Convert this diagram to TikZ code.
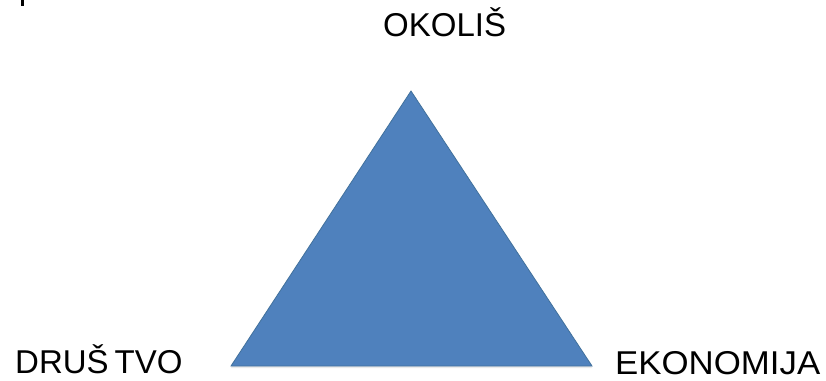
\documentclass[tikz,border=0pt]{standalone}
\usepackage{fontspec}
\setmainfont{Liberation Sans}
\definecolor{triblue}{HTML}{4F81BD}
\definecolor{triedge}{HTML}{41719C}
\begin{document}
\begin{tikzpicture}[x=1pt,y=1pt,
  lbl/.style={anchor=base west,inner sep=0pt,font=\fontsize{33}{37}\selectfont}]
\useasboundingbox (0,0) rectangle (826,380);
\fill[white] (0,0) rectangle (826,380);
\coordinate (bl) at (231,14);
\coordinate (br) at (592,14);
\coordinate (ap) at (411,289);
\fill[black!8] ([yshift=-2pt]bl) -- ([yshift=-2pt]br) -- ([yshift=-2pt]ap) -- cycle;
\filldraw[fill=triblue,draw=triedge,line width=0.8pt,line join=miter] (bl) -- (br) -- (ap) -- cycle;
\node[lbl] (okolis) at (383,343) {OKOLIŠ};
\node[lbl] (drustvo) at (15,7) {DRUŠ\hspace{6pt}TVO};
\node[lbl] (ekonomija) at (615,6) {\scalebox{1.055}[1]{EKONOMIJA}};
\fill[black] (21,374) rectangle (23.5,380);
\end{tikzpicture}
\end{document}
